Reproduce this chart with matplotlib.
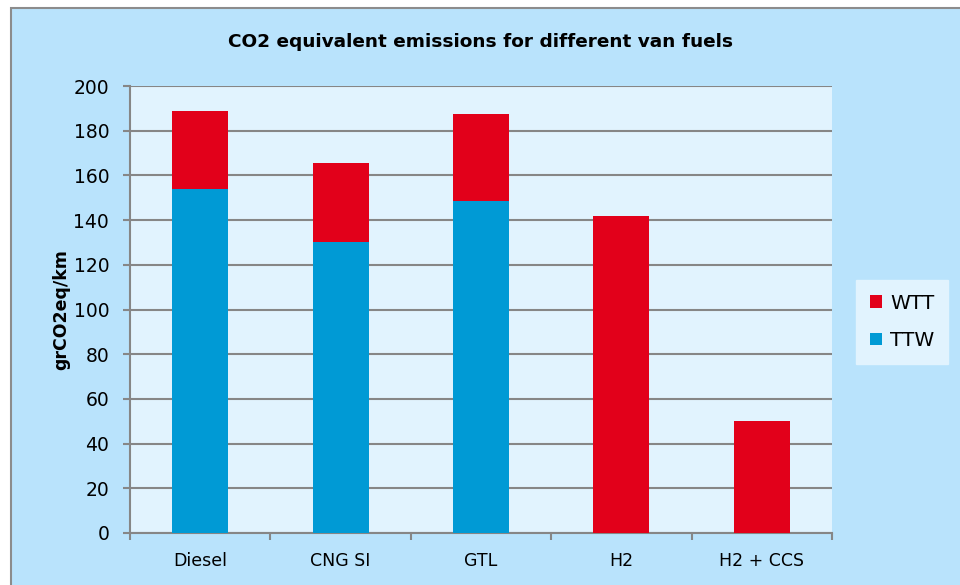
import matplotlib.pyplot as plt
import matplotlib.patches as mpatches
import numpy as np

# data
fuels = ['Diesel', 'CNG SI', 'GTL', 'H2', 'H2 + CCS']
ttw = [154, 130, 148.5, 0, 0]
wtt = [35, 35.5, 39, 142, 50]

colorWtt = '#e2001a'
colorTtw = '#009ad5'
outerBg = '#b9e3fc'
plotBg = '#e1f3fe'
gridColor = '#868686'

fig = plt.figure(figsize=(9.6, 5.85), dpi=100)
fig.patch.set_facecolor('white')

# outer chart frame (goes past the right and bottom edge of the picture)
frame = mpatches.Rectangle((11 / 960, -0.05), 1.0, 1.05 - 8 / 585,
                           transform=fig.transFigure, facecolor=outerBg,
                           edgecolor='#8c8c8c', linewidth=1.5, zorder=-5)
fig.patches.append(frame)

ax = fig.add_axes([130 / 960, 1 - 533 / 585, 702 / 960, 447 / 585])
ax.set_facecolor(plotBg)

x = np.arange(len(fuels))
ax.bar(x, ttw, width=0.4, color=colorTtw, label='TTW', zorder=3)
ax.bar(x, wtt, width=0.4, bottom=ttw, color=colorWtt, label='WTT', zorder=3)

ax.set_xlim(-0.5, len(fuels) - 0.5)
ax.set_ylim(0, 200)
ax.set_yticks(np.arange(0, 201, 20))
ax.set_xticks(x)
ax.set_xticklabels(fuels, fontsize=12.5)
ax.set_xticks(np.arange(-0.5, len(fuels), 1), minor=True)
ax.tick_params(axis='x', which='major', length=0, pad=14)
ax.tick_params(axis='x', which='minor', length=5, width=1.5, color=gridColor, direction='out')
ax.tick_params(axis='y', length=5, width=1.5, color=gridColor, labelsize=13.5, pad=10)

ax.yaxis.grid(True, color=gridColor, linewidth=1.5)
ax.set_axisbelow(True)
for s in ['top', 'right']:
    ax.spines[s].set_visible(False)
for s in ['left', 'bottom']:
    ax.spines[s].set_color(gridColor)
    ax.spines[s].set_linewidth(1.5)

ax.set_ylabel('grCO2eq/km', fontsize=12.5, fontweight='bold')
ax.yaxis.set_label_coords(-0.085, 0.5)
fig.text(0.5, 1 - 42 / 585, 'CO2 equivalent emissions for different van fuels',
         ha='center', va='center', fontsize=13.3, fontweight='bold')

handles, labels = ax.get_legend_handles_labels()
leg = fig.legend(handles[::-1], labels[::-1], loc='center',
                 bbox_to_anchor=(902 / 960, 1 - 322 / 585), fontsize=14.5,
                 frameon=True, fancybox=False, handlelength=0.6, handleheight=0.6,
                 labelspacing=0.9, borderpad=0.7, handletextpad=0.4)
leg.get_frame().set_facecolor(plotBg)
leg.get_frame().set_edgecolor(plotBg)
leg.get_frame().set_alpha(1)

fig.savefig('out.png', dpi=100, facecolor=fig.get_facecolor())
